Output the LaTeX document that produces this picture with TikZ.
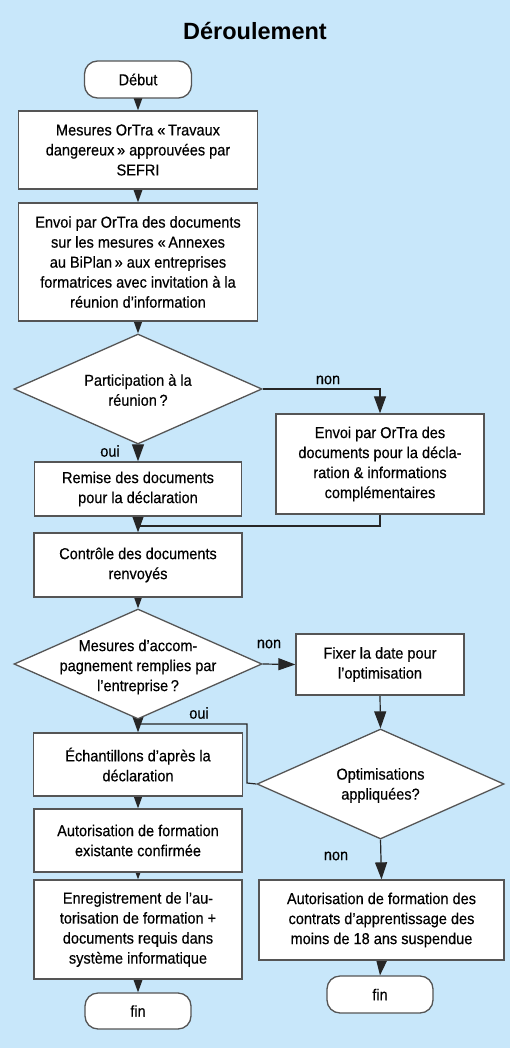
\documentclass[tikz,border=0pt]{standalone}
\usepackage{fontspec}
\setmainfont{Liberation Sans}[FakeStretch=0.92,FakeBold=0.4]
\newfontfamily\titlefont{Liberation Sans}
\usetikzlibrary{shapes.geometric,arrows.meta}
\pgfdeclarelayer{background}
\pgfsetlayers{background,main}
\definecolor{bgblue}{RGB}{200,231,250}
\definecolor{bordergray}{RGB}{85,85,85}
\begin{document}
\begin{tikzpicture}[x=1pt,y=-1pt,
  txt/.style={font=\fontsize{15.8}{20}\selectfont},
  box/.style={txt, draw=bordergray, line width=1.3pt, fill=white, align=center, inner sep=2pt},
  term/.style={box, rounded corners=13pt},
  dec/.style={diamond, draw=bordergray, line width=1.3pt, fill=white, inner sep=0pt},
  dectext/.style={txt, align=center, inner sep=0pt},
  lbl/.style={txt, inner sep=0pt},
  conn/.style={line width=1.2pt, draw=black!85, -{Triangle[length=17pt,width=12pt]}},
  joinline/.style={line width=1.2pt, draw=black!85}]
\useasboundingbox (0,0) rectangle (510,1048);
% title
\node[font=\titlefont\bfseries\fontsize{23.5}{28}\selectfont, inner sep=0pt] (title) at (255,31) {Déroulement};
% left column
\node[term, minimum width=107pt, minimum height=37pt] (debut) at (138,79.5) {Début};
\node[box, minimum width=239pt, minimum height=78pt] (m1) at (138,150) {Mesures OrTra «\,Travaux\\dangereux\,» approuvées par\\SEFRI};
\node[box, minimum width=239pt, minimum height=118pt] (m2) at (138,262) {Envoi par OrTra des documents\\sur les mesures «\,Annexes\\au BiPlan\,» aux entreprises\\formatrices avec invitation à la\\réunion d’information};
\node[dec, minimum width=248pt, minimum height=110pt] (d1) at (138,389) {};
\node[dectext] (d1t) at (138,390) {Participation à la\\réunion\,?};
\node[box, minimum width=207pt, minimum height=54pt] (remise) at (138,489) {Remise des documents\\pour la déclaration};
\node[box, minimum width=208pt, minimum height=64pt] (ctrl) at (138,565) {Contrôle des documents\\renvoyés};
\node[dec, minimum width=248pt, minimum height=110pt] (d2) at (138,664) {};
\node[dectext] (d2t) at (138,667) {Mesures d’accom-\\pagnement remplies par\\l’entreprise\,?};
\node[box, minimum width=209pt, minimum height=63pt] (ech) at (138,764.5) {Échantillons d’après la\\déclaration};
\node[box, minimum width=208pt, minimum height=63pt] (aut) at (138,840.5) {Autorisation de formation\\existante confirmée};
\node[box, minimum width=208pt, minimum height=99pt] (enr) at (138,929.5) {Enregistrement de l’au-\\torisation de formation +\\documents requis dans\\système informatique};
\node[term, minimum width=106pt, minimum height=36pt] (fin1) at (138,1011) {fin};
% right column
\node[box, minimum width=208pt, minimum height=100pt] (r1) at (380,464) {Envoi par OrTra des\\documents pour la décla-\\ration \& informations\\complémentaires};
\node[box, minimum width=168pt, minimum height=61pt] (fix) at (380,664.5) {Fixer la date pour\\l’optimisation};
\node[dec, minimum width=247pt, minimum height=110pt] (opt) at (380.5,784) {};
\node[dectext] (optt) at (380.5,785.5) {Optimisations\\appliquées?};
\node[box, minimum width=245pt, minimum height=80pt] (susp) at (381.5,920) {Autorisation de formation des\\contrats d’apprentissage des\\moins de 18 ans suspendue};
\node[term, minimum width=106pt, minimum height=37pt] (fin2) at (380,994.5) {fin};
% labels
\node[lbl] (l1) at (328,380) {non};
\node[lbl] (l2) at (110,451) {oui};
\node[lbl] (l3) at (269,644) {non};
\node[lbl] (l4) at (199,713) {oui};
\node[lbl] (l5) at (336,856) {non};
% join coordinates
\coordinate (j1) at (138,526);
\coordinate (j2) at (138,724);
\coordinate (k2) at (247,783);
\begin{pgfonlayer}{background}
\fill[bgblue] (0,0) rectangle (510,1048);
\draw[conn] (debut.south) -- (m1.north);
\draw[conn] (m1.south) -- (m2.north);
\draw[conn] (m2.south) -- (d1.north);
\draw[conn] (d1.east) -| (r1.north);
\draw[conn] (d1.south) -- (remise.north);
\draw[conn] (remise.south) -- (ctrl.north);
\draw[joinline] (r1.south) |- (j1);
\draw[conn] (ctrl.south) -- (d2.north);
\draw[conn] (d2.east) -- (fix.west);
\draw[conn] (d2.south) -- (ech.north);
\draw[conn] (fix.south) -- (opt.north);
\draw[joinline] (opt.west) -- (k2) |- (j2);
\draw[conn] (ech.south) -- (aut.north);
\draw[conn] (aut.south) -- (enr.north);
\draw[conn] (enr.south) -- (fin1.north);
\draw[conn] (opt.south) -- (susp.north);
\draw[conn] (susp.south) -- (fin2.north);
\end{pgfonlayer}
\end{tikzpicture}
\end{document}
